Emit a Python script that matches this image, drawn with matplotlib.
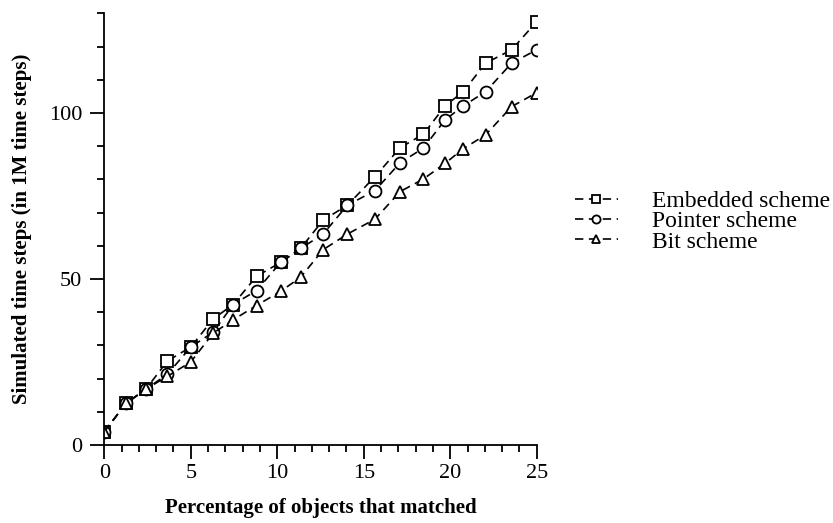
import matplotlib
matplotlib.use("Agg")
import matplotlib.pyplot as plt

plt.rcParams['font.family'] = ['Liberation Serif', 'DejaVu Serif']
plt.rcParams['lines.scale_dashes'] = False

# Data
pct = [0, 1.25, 2.4, 3.65, 5.0, 6.3, 7.45, 8.8, 10.2, 11.35, 12.65, 14.05,
       15.65, 17.1, 18.45, 19.7, 20.75, 22.05, 23.55, 25.0]
embedded = [4.0, 12.5, 16.8, 25.3, 29.5, 38.0, 42.3, 50.8, 55.0, 59.2, 67.7, 72.2,
            80.8, 89.5, 93.6, 102.1, 106.4, 115.0, 119.0, 127.5]
pointer = [4.0, 12.5, 16.8, 21.3, 29.5, 34.0, 42.3, 46.5, 55.0, 59.2, 63.5, 72.2,
           76.6, 85.0, 89.4, 97.9, 102.1, 106.4, 115.0, 119.0]
bitsch = [4.0, 12.5, 16.8, 20.7, 25.0, 33.7, 37.7, 42.0, 46.3, 50.5, 58.8, 63.5,
          68.0, 76.3, 80.1, 84.8, 89.2, 93.4, 101.9, 106.1]
series_labels = ['Embedded scheme', 'Pointer scheme', 'Bit scheme']
x_ticks = [0, 5, 10, 15, 20, 25]
y_ticks = [0, 50, 100]

W, H = 833, 523
fig = plt.figure(figsize=(W / 100, H / 100), dpi=100)
ax = fig.add_axes([104.3 / W, 1 - 445 / H, (536.7 - 104.3) / W, (445 - 13.3) / H])

style = dict(color='black', lw=1.2, dashes=(6, 4), markerfacecolor='white',
             markeredgecolor='black', markeredgewidth=1.3, markersize=8.6)
ax.plot(pct, embedded, marker='s', label=series_labels[0], **style)
ax.plot(pct, pointer, marker='o', label=series_labels[1], **style)
ax.plot(pct, bitsch, marker='^', label=series_labels[2], **style)

ax.set_xlim(0, 25)
ax.set_ylim(0, 130)
ax.set_xticks(x_ticks)
ax.set_xticks(range(0, 26), minor=True)
ax.set_yticks(y_ticks)
ax.set_yticks(range(0, 131, 10), minor=True)
for s in ['top', 'right']:
    ax.spines[s].set_visible(False)
for s in ['left', 'bottom']:
    ax.spines[s].set_linewidth(1.3)
    ax.spines[s].set_clip_on(False)
ax.tick_params(which='major', length=10, width=1.3, labelsize=16, direction='out')
ax.tick_params(which='minor', length=5, width=1.3, direction='out')
ax.tick_params(axis='x', which='major', pad=4)
ax.tick_params(axis='y', which='major', pad=6)

ax.set_xlabel('Percentage of objects that matched', fontsize=15, fontweight='bold')
ax.set_ylabel('Simulated time steps (in 1M time steps)', fontsize=15, fontweight='bold')
ax.xaxis.set_label_coords(0.5, -0.122)
ax.yaxis.set_label_coords(-0.168, 0.5)

leg = fig.legend(loc='center left', bbox_to_anchor=(575 / W, 1 - 221.7 / H),
                 frameon=False, fontsize=17, handlelength=1.8, handletextpad=1.45,
                 labelspacing=-0.06, markerscale=0.68, borderpad=0, borderaxespad=0)

fig.savefig('out.png', dpi=100)
